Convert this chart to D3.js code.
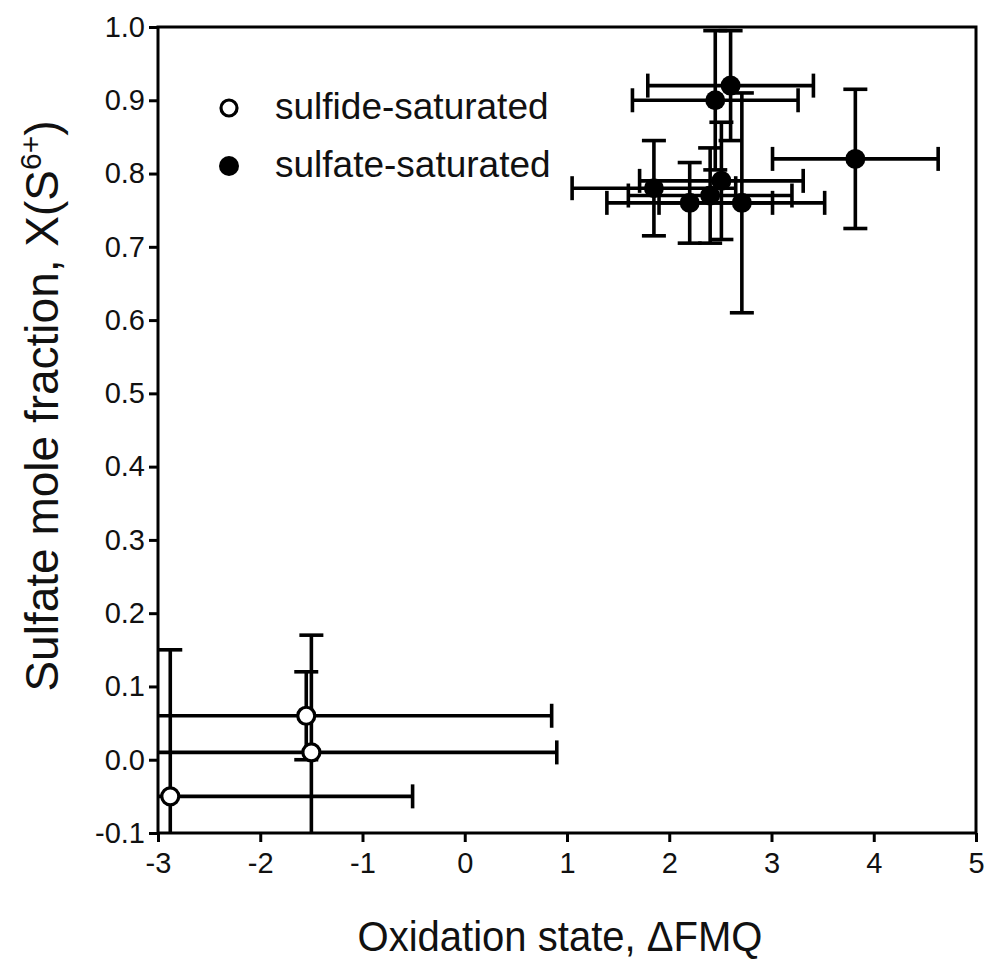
<!DOCTYPE html>
<html>
<head>
<meta charset="utf-8">
<script src="https://cdn.jsdelivr.net/npm/d3@7"></script>
<style>
  html, body { margin: 0; padding: 0; background: #fff; }
  svg { display: block; font-family: "Liberation Sans", Arial, sans-serif; }
</style>
</head>
<body>
<svg id="chart" width="989" height="960"></svg>
<script>
// ---- data ----
const sulfideX    = [-2.88, -1.55, -1.50];
const sulfideY    = [-0.05, 0.06, 0.01];
const sulfideXErr = [2.37, 2.40, 2.40];
const sulfideYErr = [0.20, 0.06, 0.16];

const sulfateX    = [3.82, 2.60, 2.45, 2.71, 1.85, 2.20, 2.51, 2.40];
const sulfateY    = [0.82, 0.92, 0.90, 0.76, 0.78, 0.76, 0.79, 0.77];
const sulfateXErr = [0.81, 0.81, 0.81, 0.81, 0.80, 0.81, 0.80, 0.80];
const sulfateYErr = [0.095, 0.075, 0.095, 0.15, 0.065, 0.055, 0.08, 0.065];

const xTicks = [-3, -2, -1, 0, 1, 2, 3, 4, 5];
const yTicks = [-0.1, 0.0, 0.1, 0.2, 0.3, 0.4, 0.5, 0.6, 0.7, 0.8, 0.9, 1.0];
const legendLabels = ["sulfide-saturated", "sulfate-saturated"];
const xTitle = "Oxidation state, \u0394FMQ";

// ---- layout ----
const L = 158, R = 976, T = 27, B = 833;
const svg = d3.select("#chart");
const x = d3.scaleLinear().domain([-3, 5]).range([L, R]);
const y = d3.scaleLinear().domain([-0.1, 1.0]).range([B, T]);

svg.append("defs").append("clipPath").attr("id", "plotclip")
  .append("rect").attr("x", L).attr("y", T).attr("width", R - L).attr("height", B - T);

// axes
const xAxis = d3.axisBottom(x).tickValues(xTicks).tickSize(9).tickPadding(10)
  .tickFormat(d => String(d));
const yAxis = d3.axisLeft(y).tickValues(yTicks).tickSize(9).tickPadding(4)
  .tickFormat(d => d.toFixed(1));

const gx = svg.append("g").attr("transform", `translate(0,${B})`).call(xAxis);
const gy = svg.append("g").attr("transform", `translate(${L},0)`).call(yAxis);
[gx, gy].forEach(g => {
  g.select(".domain").remove();
  g.selectAll(".tick line").attr("stroke", "#000").attr("stroke-width", 3);
  g.selectAll(".tick text").attr("fill", "#111").attr("font-size", 29)
    .attr("font-family", "Liberation Sans, Arial, sans-serif");
});

// frame
svg.append("rect").attr("x", L).attr("y", T).attr("width", R - L).attr("height", B - T)
  .attr("fill", "none").attr("stroke", "#000").attr("stroke-width", 3);

// error bars
const capHalf = 12;
function drawErr(g, xs, ys, xe, ye) {
  xs.forEach((xv, i) => {
    const yv = ys[i];
    const cx = x(xv), cy = y(yv);
    const x0 = x(xv - xe[i]), x1 = x(xv + xe[i]);
    g.append("line").attr("x1", x0).attr("x2", x1).attr("y1", cy).attr("y2", cy);
    [x0, x1].forEach(xx => {
      g.append("line").attr("x1", xx).attr("x2", xx).attr("y1", cy - capHalf).attr("y2", cy + capHalf);
    });
    const y0 = y(yv - ye[i]), y1 = y(yv + ye[i]);
    g.append("line").attr("x1", cx).attr("x2", cx).attr("y1", y0).attr("y2", y1);
    [y0, y1].forEach(yy => {
      g.append("line").attr("x1", cx - capHalf).attr("x2", cx + capHalf).attr("y1", yy).attr("y2", yy);
    });
  });
}
const gErr = svg.append("g").attr("clip-path", "url(#plotclip)")
  .attr("stroke", "#000").attr("stroke-width", 3.6);
drawErr(gErr, sulfideX, sulfideY, sulfideXErr, sulfideYErr);
drawErr(gErr, sulfateX, sulfateY, sulfateXErr, sulfateYErr);

// points
svg.append("g").selectAll("circle").data(sulfateX).join("circle")
  .attr("cx", d => x(d)).attr("cy", (d, i) => y(sulfateY[i])).attr("r", 10)
  .attr("fill", "#000");
svg.append("g").selectAll("circle").data(sulfideX).join("circle")
  .attr("cx", d => x(d)).attr("cy", (d, i) => y(sulfideY[i])).attr("r", 8.5)
  .attr("fill", "#fff").attr("stroke", "#000").attr("stroke-width", 3.2);

// legend
const leg = svg.append("g");
leg.append("circle").attr("cx", 229).attr("cy", 108).attr("r", 8)
  .attr("fill", "#fff").attr("stroke", "#000").attr("stroke-width", 3.2);
leg.append("circle").attr("cx", 229).attr("cy", 166).attr("r", 10).attr("fill", "#000");
legendLabels.forEach((t, i) => {
  leg.append("text").attr("x", 275).attr("y", 119 + i * 58)
    .attr("font-size", 37).attr("fill", "#111").text(t);
});

// axis titles
svg.append("text").attr("x", 560).attr("y", 951).attr("text-anchor", "middle")
  .attr("font-size", 42).attr("fill", "#111")
  .attr("textLength", 405).attr("lengthAdjust", "spacingAndGlyphs")
  .text(xTitle);

const yt = svg.append("text").attr("transform", "translate(58,406) rotate(-90)")
  .attr("text-anchor", "middle").attr("font-size", 46).attr("fill", "#111");
yt.append("tspan").text("Sulfate mole fraction, X(S");
yt.append("tspan").attr("font-size", 30).attr("dy", -17).text("6+");
yt.append("tspan").attr("dy", 17).text(")");
</script>
</body>
</html>
